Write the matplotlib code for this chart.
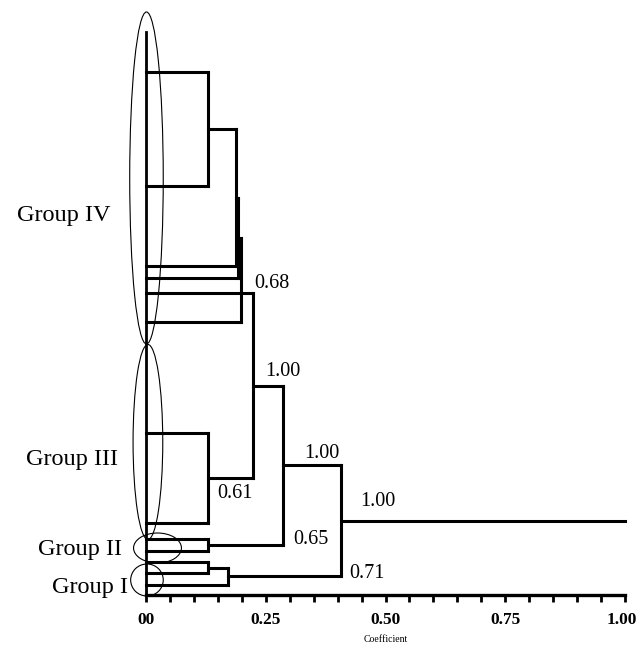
import numpy as np
import matplotlib
matplotlib.use("Agg")
import matplotlib.pyplot as plt
from matplotlib.patches import Ellipse
from matplotlib.transforms import ScaledTranslation

# ---------------- data ----------------
# row position of each terminal branch (top to bottom)
leaf_pos = [72, 186, 266, 278, 293, 322, 433, 523, 539, 551, 562, 573, 585]
# internal nodes: children (leaf index 0..12, node index 13+) and coefficient
merge_children = [(0, 1), (13, 2), (14, 3), (15, 4, 5), (6, 7), (16, 17),
                  (8, 9), (18, 19), (10, 11), (21, 12), (20, 22)]
merge_height = [0.13, 0.188, 0.192, 0.198, 0.13, 0.224,
                0.13, 0.286, 0.13, 0.171, 0.407]
root_end = 1.0
spine_top = 32

# support labels
support_x = [0.225, 0.248, 0.149, 0.330, 0.447, 0.307, 0.424]
support_y = [283, 372, 493, 453, 501, 540, 573]
support_txt = ["0.68", "1.00", "0.61", "1.00", "1.00", "0.65", "0.71"]

group_names = ["Group IV", "Group III", "Group II", "Group I"]
group_label_x = [-0.074, -0.058, -0.050, -0.038]
group_label_y = [215, 460, 549, 588]
# ellipses: center x, center y, width (x units), height (rows)
ell_cx = [0.001, 0.004, 0.024, 0.002]
ell_cy = [178, 442, 548, 580]
ell_w = [0.070, 0.062, 0.100, 0.068]
ell_h = [332, 195, 30, 32]

xticks = [0.0, 0.25, 0.50, 0.75, 1.0]
xticklabels = ["00", "0.25", "0.50", "0.75", "1.00"]
minor_ticks = np.arange(0, 1.0001, 0.05)
axis_row = 595

# ---------------- figure ----------------
W, H = 639, 648
fig = plt.figure(figsize=(W / 100, H / 100), dpi=100)
ax = fig.add_axes([146 / W, 0, 479 / W, 1])
ax.set_xlim(0, 1)
ax.set_ylim(H, 0)

lw = 2.2
serif = ["Liberation Serif", "DejaVu Serif"]

node_y = list(leaf_pos)
node_h = [0.0] * len(leaf_pos)
parent_h = [None] * (len(leaf_pos) + len(merge_children))
for ch, h in zip(merge_children, merge_height):
    ys = [node_y[c] for c in ch]
    node_y.append(float(np.median(ys)))
    node_h.append(h)
    for c in ch:
        parent_h[c] = h
    ax.plot([h, h], [min(ys), max(ys)], color="black", lw=lw,
            solid_capstyle="projecting", clip_on=False)

for i in range(len(node_y)):
    ph = parent_h[i]
    if ph is None:
        ph = root_end
    ax.plot([node_h[i], ph], [node_y[i], node_y[i]], color="black", lw=lw,
            solid_capstyle="projecting", clip_on=False)

# zero-distance spine
ax.plot([0, 0], [spine_top, axis_row], color="black", lw=2.0, clip_on=False)

for x, y, t in zip(support_x, support_y, support_txt):
    ax.text(x, y, t, fontsize=14.5, family=serif, ha="left", va="center")

for name, gx, gy in zip(group_names, group_label_x, group_label_y):
    ax.text(gx, gy, name, fontsize=17.5, family=serif, ha="right", va="center",
            clip_on=False)
for cx, cy, w, h in zip(ell_cx, ell_cy, ell_w, ell_h):
    ax.add_patch(Ellipse((cx, cy), w, h, fill=False, edgecolor="black",
                         lw=0.8, clip_on=False))

for s in ["top", "left", "right"]:
    ax.spines[s].set_visible(False)
ax.spines["bottom"].set_position(("data", axis_row))
ax.spines["bottom"].set_linewidth(2.4)
ax.set_yticks([])
ax.set_xticks(minor_ticks, minor=True)
ax.set_xticks(xticks)
ax.set_xticklabels(xticklabels, fontsize=12.5, family=serif, fontweight="bold")
ax.tick_params(axis="x", which="both", direction="out", length=5, width=2)
ax.tick_params(axis="x", which="major", pad=7)
ax.set_xlabel("Coefficient", fontsize=7, family=serif, labelpad=5)

fig.canvas.draw()
labels = ax.get_xticklabels()
labels[-1].set_horizontalalignment("right")
labels[-1].set_transform(labels[-1].get_transform() +
                         ScaledTranslation(12 / 100, 0, fig.dpi_scale_trans))

fig.savefig("out.png", dpi=100)
